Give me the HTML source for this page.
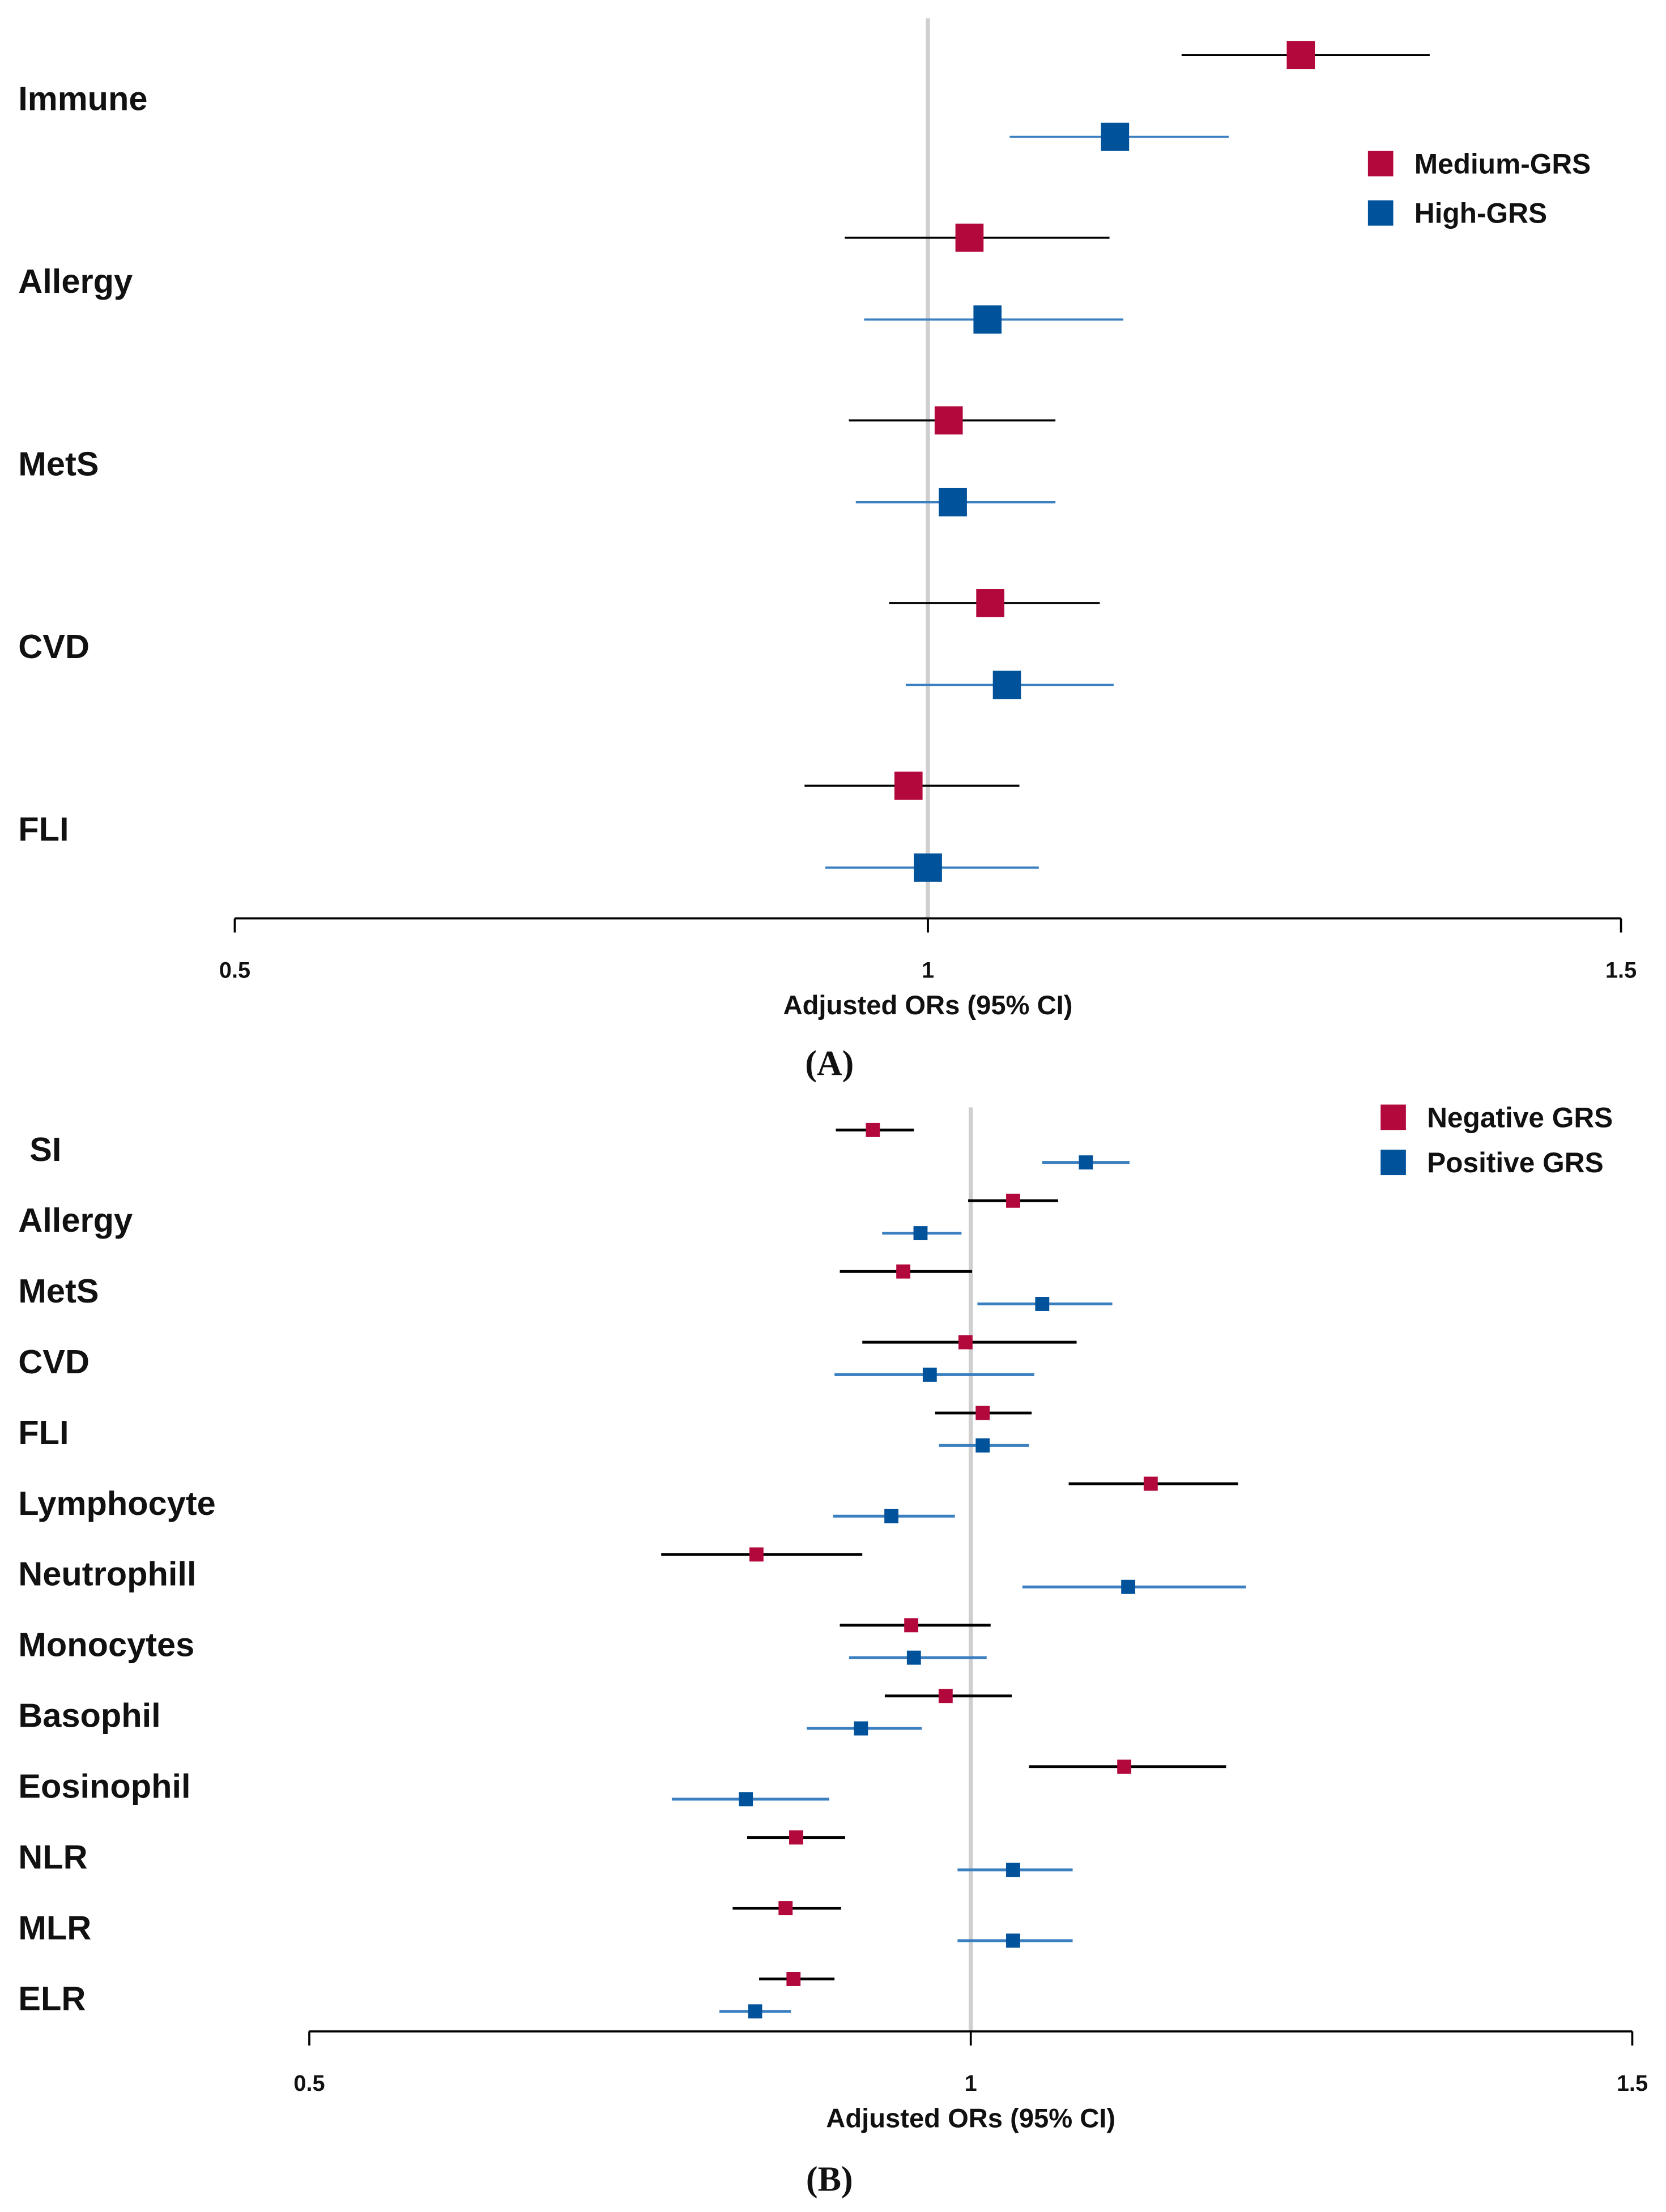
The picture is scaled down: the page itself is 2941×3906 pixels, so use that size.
<!DOCTYPE html>
<html><head><meta charset="utf-8"><style>
html,body{margin:0;padding:0;background:#fff;}
svg{display:block;}
text{font-family:"Liberation Sans",Arial,sans-serif;font-weight:bold;fill:#111;}
</style></head><body>
<svg id="chart" width="2941" height="3906" viewBox="0 0 1185 1568" preserveAspectRatio="none" xmlns="http://www.w3.org/2000/svg">
<g id="panelA"></g>
<g id="panelB"></g>
</svg>
<script>
// Panel A data
const catsA = ["Immune","Allergy","MetS","CVD","FLI"];
const medA = [1.269,1.030,1.015,1.045,0.986];
const medALo = [1.183,0.940,0.943,0.972,0.911];
const medAHi = [1.362,1.131,1.092,1.124,1.066];
const highA = [1.135,1.043,1.018,1.057,1.000];
const highALo = [1.059,0.954,0.948,0.984,0.926];
const highAHi = [1.217,1.141,1.092,1.134,1.080];
const ticksA = ["0.5","1","1.5"];
const tickValsA = [0.5,1,1.5];
const legendA = ["Medium-GRS","High-GRS"];

// Panel B data
const catsB = ["SI","Allergy","MetS","CVD","FLI","Lymphocyte","Neutrophill","Monocytes","Basophil","Eosinophil","NLR","MLR","ELR"];
const negB = [0.926,1.032,0.949,0.996,1.009,1.136,0.838,0.955,0.981,1.116,0.868,0.860,0.866];
const negBLo = [0.898,0.998,0.901,0.918,0.973,1.074,0.766,0.901,0.935,1.044,0.831,0.820,0.840];
const negBHi = [0.957,1.066,1.001,1.080,1.046,1.202,0.918,1.015,1.031,1.193,0.905,0.902,0.897];
const posB = [1.087,0.962,1.054,0.969,1.009,0.940,1.119,0.957,0.917,0.830,1.032,1.032,0.837];
const posBLo = [1.054,0.933,1.005,0.897,0.976,0.896,1.039,0.908,0.876,0.774,0.990,0.990,0.810];
const posBHi = [1.120,0.993,1.107,1.048,1.044,0.988,1.208,1.012,0.963,0.893,1.077,1.077,0.864];
const ticksB = ["0.5","1","1.5"];
const tickValsB = [0.5,1,1.5];
const legendB = ["Negative GRS","Positive GRS"];

const NS="http://www.w3.org/2000/svg";
const RED="#b3083b", BLUE="#00529b", LBLUE="#3a7fc0";
function mk(tag,attrs,parent,txt){const e=document.createElementNS(NS,tag);for(const k in attrs)e.setAttribute(k,attrs[k]);if(txt!=null)e.textContent=txt;parent.appendChild(e);return e;}

function panel(g,o){
  const x=v=>o.x0+(v-0.5)*(o.x1-o.x0);
  // reference line
  const ref=mk('line',{x1:x(1),x2:x(1),y1:o.refTop,y2:o.axisY,stroke:'#cfcfcf','stroke-width':3},g);
  
  
  // axis
  const ax=mk('line',{x1:o.x0,x2:o.x1,y1:o.axisY,y2:o.axisY,stroke:'#000','stroke-width':1.5},g);
  
  
  o.tickVals.forEach((v,i)=>{
    const t=mk('line',{x1:x(v),x2:x(v),y1:o.axisY,y2:o.axisY+10,stroke:'#000','stroke-width':1.5},g);
    
    
    const tl=mk('text',{x:x(v),y:o.axisY+42,'text-anchor':'middle','font-size':16},g,o.ticks[i]);
    
    
  });
  const at=mk('text',{x:x(1),y:o.axisY+68,'text-anchor':'middle','font-size':19},g,'Adjusted ORs (95% CI)');
  
  
  const pl=mk('text',{x:590,y:o.axisY+o.capDy,'text-anchor':'middle','font-size':25,style:'font-family:"Liberation Serif",serif;font-weight:bold'},g,o.cap);
  
  
  o.cats.forEach((c,i)=>{
    const yL=o.labelY0+i*o.step;
    const lab=mk('text',{x:o.labX[i]||13,y:yL+8,'font-size':o.labSize},g,c);
    
    
    [[o.s1,o.s1Lo,o.s1Hi,RED,'#000',o.y1off],[o.s2,o.s2Lo,o.s2Hi,BLUE,LBLUE,o.y2off]].forEach(([s,lo,hi,col,lc,off],k)=>{
      const y=yL+off;
      const ci=mk('line',{x1:x(lo[i]),x2:x(hi[i]),y1:y,y2:y,stroke:lc,'stroke-width':o.lw},g);
      
      
      const m=mk('rect',{x:x(s[i])-o.ms/2,y:y-o.ms/2,width:o.ms,height:o.ms,fill:col},g);
      
      
    });
  });
  o.legend.forEach((l,i)=>{
    const y=o.legY+i*o.legStep;
    const r=mk('rect',{x:o.legX,y:y-o.legS/2,width:o.legS,height:o.legS,fill:i?BLUE:RED},g);
    
    
    const t=mk('text',{x:o.legX+o.legS+15,y:y+7,'font-size':20},g,l);
    
    
  });
}

panel(document.getElementById('panelA'),{x0:167,x1:1153,axisY:651,refTop:13,ticks:ticksA,tickVals:tickValsA,cap:'(A)',capDy:111,
  cats:catsA,labelY0:70,step:129.5,labX:[],labSize:24,s1:medA,s1Lo:medALo,s1Hi:medAHi,s2:highA,s2Lo:highALo,s2Hi:highAHi,
  y1off:-31,y2off:27,ms:20,lw:1.5,legend:legendA,legX:973,legY:116,legStep:35,legS:18});
panel(document.getElementById('panelB'),{x0:220,x1:1161,axisY:1440,refTop:785,ticks:ticksB,tickVals:tickValsB,cap:'(B)',capDy:113,
  cats:catsB,labelY0:815,step:50.15,labX:[21],labSize:24,s1:negB,s1Lo:negBLo,s1Hi:negBHi,s2:posB,s2Lo:posBLo,s2Hi:posBHi,
  y1off:-14,y2off:9,ms:10,lw:2,legend:legendB,legX:982,legY:792,legStep:32,legS:18});
</script>
</body></html>
